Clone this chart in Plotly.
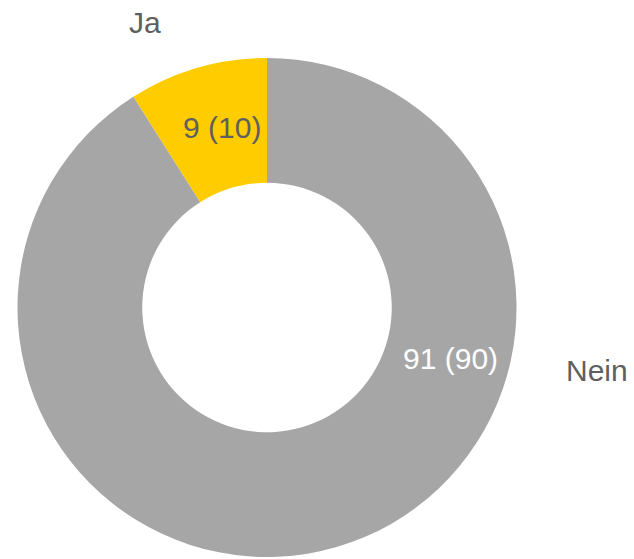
import plotly.graph_objects as go

labels = ['Ja', 'Nein']
values = [9, 91]
prev_values = [10, 90]
colors = ['#FFCC00', '#A6A6A6']

W, H = 634, 559

# first slice (Ja) should sit just left of 12 o'clock
start = -360.0 * values[0] / sum(values)

fig = go.Figure(data=[go.Pie(labels=labels, values=values, sort=False,
                             direction='clockwise', rotation=start, hole=0.5,
                             textinfo='none', hoverinfo='label+value',
                             marker=dict(colors=colors, line=dict(width=0)))])

fig.update_traces(domain=dict(x=[15 / W, 519 / W], y=[1 - 557 / H, 1 - 58 / H]))

# label positions (pixels)
value_pos = [(222, 127), (450, 358)]
value_colors = ['#5F5F5F', '#FFFFFF']
name_pos = [(145, 22), (597, 370)]

annotations = []
for i, lab in enumerate(labels):
    annotations.append(dict(x=value_pos[i][0] / W, y=1 - value_pos[i][1] / H,
                            xref='paper', yref='paper', showarrow=False,
                            xanchor='center', yanchor='middle',
                            text='%d (%d)' % (values[i], prev_values[i]),
                            font=dict(size=30, color=value_colors[i])))
    annotations.append(dict(x=name_pos[i][0] / W, y=1 - name_pos[i][1] / H,
                            xref='paper', yref='paper', showarrow=False,
                            xanchor='center', yanchor='middle',
                            text=lab, font=dict(size=30, color='#5F5F5F')))

fig.update_layout(
    width=W, height=H,
    margin=dict(l=0, r=0, t=0, b=0),
    paper_bgcolor='white',
    plot_bgcolor='white',
    font=dict(family='Liberation Sans, Arial, sans-serif', size=30, color='#5F5F5F'),
    showlegend=False,
    annotations=annotations,
)

fig.write_html('out.html', config={'displayModeBar': False},
               post_script="document.body.style.margin='0';")
